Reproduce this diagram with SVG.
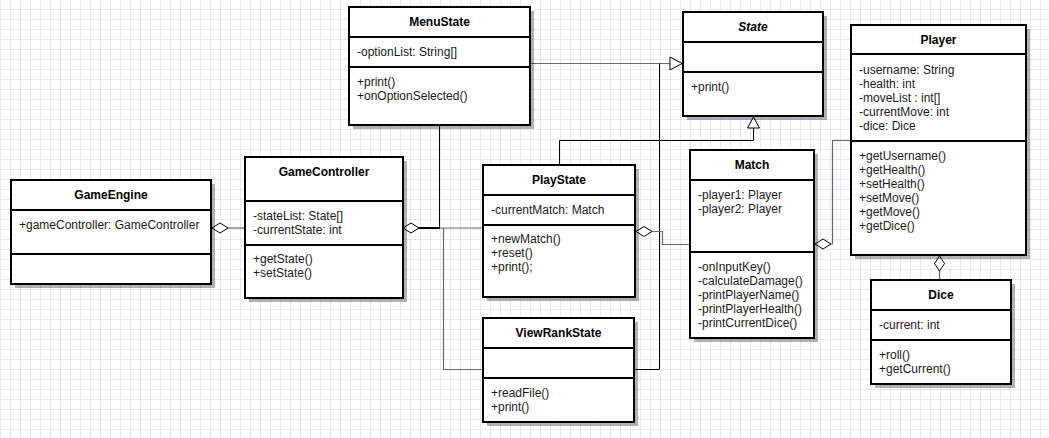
<svg xmlns="http://www.w3.org/2000/svg" width="1049" height="438" viewBox="0 0 1049 438">
<style>
.box{fill:#fff;stroke:#000;stroke-width:2}
.sh{fill:#000;opacity:.3}
.div{stroke:#000;stroke-width:2}
.t{font-family:"Liberation Sans",Arial,sans-serif;font-size:12px;fill:#000}
.tb{font-weight:bold;text-anchor:middle}
.a{fill:#1a1a1a}
.g{fill:none;stroke:#6a6a6a;stroke-width:1.2}
.k{fill:none;stroke:#000;stroke-width:1}
.dia{fill:#fff;stroke:#000;stroke-width:1}
</style>
<defs>
<pattern id="grid" width="10" height="10" patternUnits="userSpaceOnUse">
<path d="M0 9.5H10M0.5 0V10" stroke="#e8e8fb" stroke-width="1" fill="none"/>
</pattern>
</defs>
<rect width="1049" height="438" fill="#fff"/>
<rect width="1049" height="438" fill="url(#grid)"/>

<g id="connectors">
<polyline class="g" points="228,228 245,228"/>
<polygon class="dia" points="212,228 220,223 228,228 220,233"/>
<line class="k" x1="439.5" y1="125" x2="439.5" y2="228"/>
<line x1="419" y1="228" x2="440" y2="228" stroke="#000" stroke-width="2"/>
<polyline class="g" points="440,228 483,228"/>
<polyline class="g" points="443.5,228 443.5,369.5 483,369.5"/>
<polygon class="dia" points="403,228 411,223 419,228 411,233"/>
<polyline class="g" points="530,63.5 670,63.5"/>
<polyline class="k" points="634,369.5 659.5,369.5 659.5,63.5"/>
<polygon class="dia" points="670,57 682,63.5 670,70"/>
<polyline class="k" points="559.5,165 559.5,140.5 753.5,140.5 753.5,128"/>
<polygon class="dia" points="747.5,128 753.5,117 759.5,128"/>
<polyline class="g" points="652,231.5 662.5,231.5 662.5,244.5 690,244.5"/>
<polygon class="dia" points="636,231.5 644,226.5 652,231.5 644,236.5"/>
<polyline class="g" points="831,244 832.5,244 832.5,140.5 851,140.5"/>
<polygon class="dia" points="815,244 823,239 831,244 823,249"/>
<line class="g" x1="939.5" y1="271" x2="939.5" y2="280"/>
<polygon class="dia" points="939.5,256 944.5,263.5 939.5,271 934.5,263.5"/>
</g>

<g id="GameEngine">
<rect class="sh" x="15" y="184" width="200" height="104"/>
<rect class="box" x="11" y="180" width="200" height="104"/>
<line class="div" x1="11" y1="210" x2="211" y2="210"/>
<line class="div" x1="11" y1="254" x2="211" y2="254"/>
<text class="t tb" x="111" y="199">GameEngine</text>
<text class="t a" x="19" y="229">+gameController: GameController</text>
</g>

<g id="GameController">
<rect class="sh" x="249" y="161" width="158" height="141"/>
<rect class="box" x="245" y="157" width="158" height="141"/>
<line class="div" x1="245" y1="201" x2="403" y2="201"/>
<line class="div" x1="245" y1="245" x2="403" y2="245"/>
<text class="t tb" x="324" y="176">GameController</text>
<text class="t a" x="253" y="220">-stateList: State[]</text>
<text class="t a" x="253" y="234">-currentState: int</text>
<text class="t a" x="253" y="263">+getState()</text>
<text class="t a" x="253" y="277">+setState()</text>
</g>

<g id="MenuState">
<rect class="sh" x="353" y="11" width="181" height="118"/>
<rect class="box" x="349" y="7" width="181" height="118"/>
<line class="div" x1="349" y1="37" x2="530" y2="37"/>
<line class="div" x1="349" y1="67" x2="530" y2="67"/>
<text class="t tb" x="439.5" y="26">MenuState</text>
<text class="t a" x="357" y="56">-optionList: String[]</text>
<text class="t a" x="357" y="86">+print()</text>
<text class="t a" x="357" y="100">+onOptionSelected()</text>
</g>

<g id="State">
<rect class="sh" x="687" y="16" width="140" height="104"/>
<rect class="box" x="683" y="12" width="140" height="104"/>
<line class="div" x1="683" y1="42" x2="823" y2="42"/>
<line class="div" x1="683" y1="72" x2="823" y2="72"/>
<text class="t tb" x="753" y="31" font-style="italic">State</text>
<text class="t a" x="691" y="91">+print()</text>
</g>

<g id="PlayState">
<rect class="sh" x="487" y="169" width="152" height="132"/>
<rect class="box" x="483" y="165" width="152" height="132"/>
<line class="div" x1="483" y1="195" x2="635" y2="195"/>
<line class="div" x1="483" y1="225" x2="635" y2="225"/>
<text class="t tb" x="559" y="184">PlayState</text>
<text class="t a" x="491" y="214">-currentMatch: Match</text>
<text class="t a" x="491" y="243">+newMatch()</text>
<text class="t a" x="491" y="257">+reset()</text>
<text class="t a" x="491" y="271">+print();</text>
</g>

<g id="ViewRankState">
<rect class="sh" x="487" y="322" width="151" height="104"/>
<rect class="box" x="483" y="318" width="151" height="104"/>
<line class="div" x1="483" y1="348" x2="634" y2="348"/>
<line class="div" x1="483" y1="378" x2="634" y2="378"/>
<text class="t tb" x="558.5" y="337">ViewRankState</text>
<text class="t a" x="491" y="397">+readFile()</text>
<text class="t a" x="491" y="411">+print()</text>
</g>

<g id="Match">
<rect class="sh" x="694" y="154" width="124" height="188"/>
<rect class="box" x="690" y="150" width="124" height="188"/>
<line class="div" x1="690" y1="180" x2="814" y2="180"/>
<line class="div" x1="690" y1="252" x2="814" y2="252"/>
<text class="t tb" x="752" y="169">Match</text>
<text class="t a" x="698" y="199">-player1: Player</text>
<text class="t a" x="698" y="213">-player2: Player</text>
<text class="t a" x="698" y="271">-onInputKey()</text>
<text class="t a" x="698" y="285">-calculateDamage()</text>
<text class="t a" x="698" y="299">-printPlayerName()</text>
<text class="t a" x="698" y="313">-printPlayerHealth()</text>
<text class="t a" x="698" y="327">-printCurrentDice()</text>
</g>

<g id="Player">
<rect class="sh" x="855" y="29" width="175" height="230"/>
<rect class="box" x="851" y="25" width="175" height="230"/>
<line class="div" x1="851" y1="54" x2="1026" y2="54"/>
<line class="div" x1="851" y1="141" x2="1026" y2="141"/>
<text class="t tb" x="938.5" y="44">Player</text>
<text class="t a" x="859" y="74">-username: String</text>
<text class="t a" x="859" y="88">-health: int</text>
<text class="t a" x="859" y="102">-moveList : int[]</text>
<text class="t a" x="859" y="116">-currentMove: int</text>
<text class="t a" x="859" y="130">-dice: Dice</text>
<text class="t a" x="859" y="160">+getUsername()</text>
<text class="t a" x="859" y="174">+getHealth()</text>
<text class="t a" x="859" y="188">+setHealth()</text>
<text class="t a" x="859" y="202">+setMove()</text>
<text class="t a" x="859" y="216">+getMove()</text>
<text class="t a" x="859" y="230">+getDice()</text>
</g>

<g id="Dice">
<rect class="sh" x="875" y="284" width="140" height="104"/>
<rect class="box" x="871" y="280" width="140" height="104"/>
<line class="div" x1="871" y1="310" x2="1011" y2="310"/>
<line class="div" x1="871" y1="340" x2="1011" y2="340"/>
<text class="t tb" x="941" y="299">Dice</text>
<text class="t a" x="879" y="329">-current: int</text>
<text class="t a" x="879" y="359">+roll()</text>
<text class="t a" x="879" y="373">+getCurrent()</text>
</g>
</svg>
